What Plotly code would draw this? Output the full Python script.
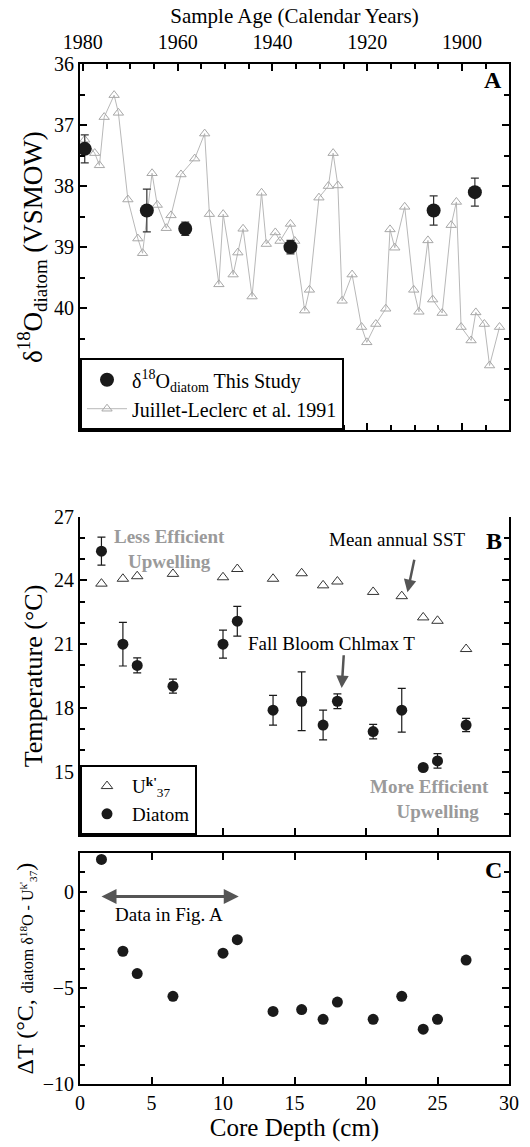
import plotly.graph_objects as go

FONT = "Liberation Serif"

# ---------------- Panel A data ----------------
jl_year = [1979.6, 1977.5, 1976.5, 1975.5, 1973.4, 1972.5, 1970.5, 1968.4, 1967.4, 1965.4,
           1964.3, 1962.4, 1961.4, 1959.3, 1956.4, 1954.3, 1953.3, 1951.3, 1950.4, 1948.3,
           1947.3, 1946.2, 1944.3, 1942.3, 1941.3, 1939.4, 1938.4, 1936.2, 1935.3, 1933.2,
           1932.2, 1930.2, 1928.2, 1927.2, 1926.2, 1925.3, 1923.2, 1921.2, 1920.1, 1918.2,
           1916.1, 1915.2, 1914.2, 1912.1, 1910.2, 1909.1, 1907.2, 1906.2, 1904.2, 1902.3,
           1901.2, 1900.2, 1898.1, 1897.1, 1895.3, 1894.2, 1892.1]
jl_d18o = [37.24, 37.46, 37.66, 36.87, 36.51, 36.80, 38.22, 38.86, 39.10, 37.79,
           38.31, 38.69, 38.48, 37.81, 37.55, 37.14, 38.46, 39.61, 38.46, 39.45,
           39.09, 38.70, 39.81, 38.11, 38.95, 38.76, 38.90, 38.62, 38.90, 40.04,
           39.70, 38.19, 38.00, 37.46, 37.99, 39.88, 39.45, 40.31, 40.56, 40.26,
           40.01, 38.71, 39.01, 38.34, 39.70, 40.06, 38.89, 39.86, 40.08, 38.64,
           38.26, 40.31, 40.53, 40.07, 40.26, 40.94, 40.31]

diatom_year_a = [1979.6, 1966.5, 1958.4, 1936.2, 1906.0, 1897.3]
diatom_d18o_a = [37.39, 38.40, 38.70, 39.00, 38.40, 38.10]
diatom_d18o_err = [0.23, 0.35, 0.11, 0.11, 0.24, 0.23]

# ---------------- Panel B / C data ----------------
depth = [1.5, 3, 4, 6.5, 10, 11, 13.5, 15.5, 17, 18, 20.5, 22.5, 24, 25, 27]
uk37_T = [23.85, 24.08, 24.20, 24.31, 24.15, 24.54, 24.08, 24.34, 23.77, 23.95,
          23.46, 23.26, 22.26, 22.10, 20.77]
diatom_T = [25.38, 21.00, 20.00, 19.02, 21.00, 22.08, 17.89, 18.31, 17.19, 18.31,
            16.88, 17.89, 15.19, 15.50, 17.19]
diatom_T_err = [0.66, 1.03, 0.35, 0.33, 0.66, 0.70, 0.70, 1.38, 0.70, 0.35,
                0.34, 1.03, 0.10, 0.34, 0.31]
delta_T = [1.67, -3.10, -4.26, -5.44, -3.20, -2.50, -6.23, -6.13, -6.64, -5.74,
           -6.64, -5.44, -7.15, -6.64, -3.56]

# ---------------- Axis ticks ----------------
a_year_ticks = [1980, 1960, 1940, 1920, 1900]
a_y_ticks = [36, 37, 38, 39, 40]
b_year_ticks = [1950, 1900, 1850, 1800, 1750]
b_y_ticks = [15, 18, 21, 24, 27]
c_y_ticks = [-10, -5, 0]
depth_ticks = [0, 5, 10, 15, 20, 25, 30]

W, H = 530, 1147
ML, MR, MT, MB = 80, 11, 64, 58
PH = H - MT - MB


def dom(top_px, bot_px):
    return [(H - MB - bot_px) / PH, (H - MB - top_px) / PH]


domA = dom(64, 432)
domB = dom(519, 839)
domC = dom(857, 1089)

fig = go.Figure()

# Panel A
fig.add_trace(go.Scatter(
    x=jl_year, y=jl_d18o, mode="lines+markers", name="Juillet-Leclerc et al. 1991",
    line=dict(color="#b8b8b8", width=1),
    marker=dict(symbol="triangle-up-open", size=9, color="#a8a8a8", line=dict(width=1)),
    xaxis="x", yaxis="y", legend="legend", legendrank=2))
fig.add_trace(go.Scatter(
    x=diatom_year_a, y=diatom_d18o_a, mode="markers",
    name="δ<sup>18</sup>O<sub>diatom</sub> This Study",
    marker=dict(symbol="circle", size=14, color="#1a1a1a"),
    error_y=dict(type="data", array=diatom_d18o_err, color="#333", thickness=1.2, width=4),
    xaxis="x", yaxis="y", legend="legend", legendrank=1))

# Panel B
fig.add_trace(go.Scatter(
    x=depth, y=uk37_T, mode="markers", name="U<sup><b>k'</b></sup><sub>37</sub>",
    marker=dict(symbol="triangle-up-open", size=10, color="#333", line=dict(width=1)),
    xaxis="x2", yaxis="y2", legend="legend2", legendrank=1))
fig.add_trace(go.Scatter(
    x=depth, y=diatom_T, mode="markers", name="Diatom",
    marker=dict(symbol="circle", size=11, color="#1a1a1a"),
    error_y=dict(type="data", array=diatom_T_err, color="#1a1a1a", thickness=1.2, width=4),
    xaxis="x2", yaxis="y2", legend="legend2", legendrank=2))

# Panel C
fig.add_trace(go.Scatter(
    x=depth, y=delta_T, mode="markers", showlegend=False,
    marker=dict(symbol="circle", size=11, color="#1a1a1a"),
    xaxis="x3", yaxis="y3"))

tickfont = dict(family=FONT, size=20, color="black")
common = dict(showline=True, linewidth=2, linecolor="black", ticks="inside",
              ticklen=7, tickwidth=1.5, tickcolor="black", showgrid=False,
              zeroline=False, tickfont=tickfont)

fig.update_layout(
    width=W, height=H,
    margin=dict(l=ML, r=MR, t=MT, b=MB),
    paper_bgcolor="white", plot_bgcolor="white",
    font=dict(family=FONT, color="black"),
    xaxis=dict(**common, domain=[0, 1], anchor="y", side="top", mirror="ticks",
               range=[1980.6, 1890.1], tickmode="array", tickvals=a_year_ticks,
               ticklabelstandoff=5,
               minor=dict(tick0=1980, dtick=5, ticks="inside", ticklen=5,
                          tickcolor="black", tickwidth=1.5),
               title=dict(text="Sample Age (Calendar Years)",
                          font=dict(family=FONT, size=21), standoff=2)),
    yaxis=dict(**common, domain=domA, anchor="x", mirror="ticks",
               range=[42, 36], tickmode="array", tickvals=a_y_ticks,
               minor=dict(tick0=36, dtick=0.5, ticks="inside", ticklen=5,
                          tickcolor="black", tickwidth=1.5),
               title=dict(text="δ<sup>18</sup>O<sub>diatom</sub> (VSMOW)",
                          font=dict(family=FONT, size=27), standoff=4)),
    xaxis2=dict(**common, domain=[0, 1], anchor="y2", range=[0, 30],
                tickmode="array", tickvals=depth_ticks, showticklabels=False),
    xaxis4=dict(**common, overlaying="x2", anchor="y2", side="top",
                range=[1994.5, 1734], tickmode="array", tickvals=b_year_ticks,
                minor=dict(tick0=1750, dtick=12.5, ticks="inside", ticklen=5,
                           tickcolor="black", tickwidth=1.5),
                title=dict(text="Sample Age (Calendar Years)",
                           font=dict(family=FONT, size=21), standoff=6)),
    yaxis2=dict(**common, domain=domB, anchor="x2", mirror="ticks",
                range=[12, 27], tickmode="array", tickvals=b_y_ticks,
                minor=dict(tick0=12, dtick=1, ticks="inside", ticklen=5,
                           tickcolor="black", tickwidth=1.5),
                title=dict(text="Temperature (°C)",
                           font=dict(family=FONT, size=26), standoff=4)),
    xaxis3=dict(**common, domain=[0, 1], anchor="y3", mirror="ticks",
                range=[0, 30], tickmode="array", tickvals=depth_ticks,
                title=dict(text="Core Depth (cm)",
                           font=dict(family=FONT, size=25), standoff=4)),
    yaxis3=dict(**common, domain=domC, anchor="x3", mirror="ticks",
                range=[-10, 2], tickmode="array", tickvals=c_y_ticks,
                minor=dict(tick0=-10, dtick=1, ticks="inside", ticklen=5,
                           tickcolor="black", tickwidth=1.5),
                title=dict(text="ΔT (°C, <span style='font-size:16px'>diatom δ<sup>18</sup>O - U<sup>k'</sup><sub>37</sub></span>)",
                           font=dict(family=FONT, size=24), standoff=2)),
    legend=dict(x=0, y=domA[0], xanchor="left", yanchor="bottom",
                bgcolor="white", bordercolor="black", borderwidth=2,
                font=dict(family=FONT, size=20), tracegroupgap=0,
                itemwidth=40),
    legend2=dict(x=0, y=domB[0], xanchor="left", yanchor="bottom",
                 bgcolor="white", bordercolor="black", borderwidth=2,
                 font=dict(family=FONT, size=19), tracegroupgap=0,
                 itemwidth=40),
)

gray_bold = dict(family=FONT, size=19, color="#9a9a9a")
txt = dict(family=FONT, size=19, color="black")
annos = [
    dict(text="<b>A</b>", xref="x domain", yref="y domain", x=0.988, y=0.957,
         xanchor="right", yanchor="middle", showarrow=False,
         font=dict(family=FONT, size=24, color="black")),
    dict(text="<b>B</b>", xref="x2 domain", yref="y2 domain", x=0.988, y=0.925,
         xanchor="right", yanchor="middle", showarrow=False,
         font=dict(family=FONT, size=24, color="black")),
    dict(text="<b>C</b>", xref="x3 domain", yref="y3 domain", x=0.988, y=0.927,
         xanchor="right", yanchor="middle", showarrow=False,
         font=dict(family=FONT, size=24, color="black")),
    dict(text="<b>Less Efficient<br>Upwelling</b>", xref="x2", yref="y2", x=6.25, y=25.5,
         showarrow=False, font=gray_bold, align="center"),
    dict(text="<b>More Efficient<br>Upwelling&nbsp;&nbsp;</b>", xref="x2", yref="y2",
         x=28.75, y=13.7, xanchor="right",
         showarrow=False, font=gray_bold, align="right"),
    dict(text="Mean annual SST", xref="x2", yref="y2", x=22.2, y=25.93,
         showarrow=False, font=txt),
    dict(text="", xref="x2", yref="y2", x=22.9, y=23.45, ax=23.4, ay=25.05,
         axref="x2", ayref="y2", showarrow=True, arrowhead=2, arrowsize=1,
         arrowwidth=2.5, arrowcolor="#555"),
    dict(text="Fall Bloom Chlmax T", xref="x2", yref="y2", x=17.57, y=21.02,
         showarrow=False, font=txt),
    dict(text="", xref="x2", yref="y2", x=18.3, y=18.93, ax=18.45, ay=20.55,
         axref="x2", ayref="y2", showarrow=True, arrowhead=2, arrowsize=1,
         arrowwidth=2.5, arrowcolor="#555"),
    dict(text="", xref="x3", yref="y3", x=11.1, y=-0.26, ax=1.4, ay=-0.26,
         axref="x3", ayref="y3", showarrow=True, arrowhead=2, startarrowhead=2,
         arrowside="end+start", arrowsize=1, arrowwidth=3, arrowcolor="#555"),
    dict(text="Data in Fig. A", xref="x3", yref="y3", x=6.2, y=-1.21,
         showarrow=False, font=txt),
]
fig.update_layout(annotations=annos)

fig.write_html("out.html")
